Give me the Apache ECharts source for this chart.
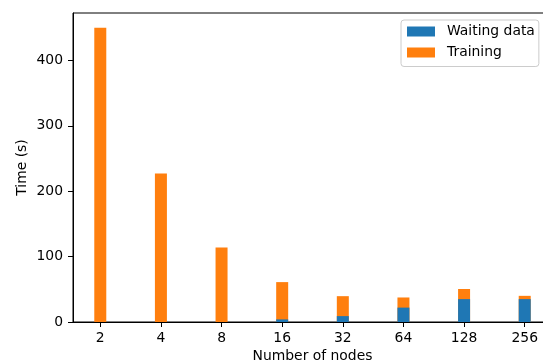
<!DOCTYPE html>
<html>
<head>
<meta charset="utf-8">
<script src="https://cdn.jsdelivr.net/npm/echarts@6/dist/echarts.min.js"></script>
<style>html,body{margin:0;padding:0;background:#fff;}#c{width:543px;height:364px;}</style>
</head>
<body>
<div id="c"></div>
<script>
const categories = ['2', '4', '8', '16', '32', '64', '128', '256'];
const waitingData = [0, 0, 0, 4, 9, 22, 35, 35];
const training = [450, 227, 114, 57, 30.5, 15.5, 15.5, 5];
const yTicks = [0, 100, 200, 300, 400];

const FONT = 'DejaVu Sans';
const FS = 13.9;
const idx = categories.map((c, i) => i);
// training is stacked on top of waiting data
const trainingTop = training.map((v, i) => [i, v + waitingData[i]]);

const chart = echarts.init(document.getElementById('c'), null, {renderer: 'canvas'});
chart.setOption({
  animation: false,
  backgroundColor: '#fff',
  textStyle: {fontFamily: FONT},
  grid: {
    left: 73, top: 13, width: 479, height: 309,
    outerBoundsMode: 'none',
    containLabel: false,
    show: true, borderColor: '#000', borderWidth: 1, backgroundColor: 'transparent'
  },
  legend: {
    orient: 'vertical',
    left: 401, top: 20,
    padding: [3.5, 4, 6, 6],
    itemGap: 5,
    itemWidth: 28, itemHeight: 10,
    icon: 'rect',
    backgroundColor: '#fff',
    borderColor: '#cccccc', borderWidth: 1, borderRadius: 3,
    textStyle: {fontFamily: FONT, fontSize: FS, color: '#000', lineHeight: 16, padding: [0, 0, 0, 7]},
    data: ['Waiting data', 'Training']
  },
  xAxis: {
    type: 'value',
    min: -0.45, max: 7.45,
    name: 'Number of nodes',
    nameLocation: 'middle',
    nameGap: 27,
    nameMoveOverlap: false,
    nameTextStyle: {fontFamily: FONT, fontSize: FS, color: '#000'},
    axisLine: {show: true, onZero: false, lineStyle: {color: '#000', width: 1}},
    axisTick: {show: true, length: 5, lineStyle: {color: '#000', width: 1}, customValues: idx},
    axisLabel: {
      fontFamily: FONT, fontSize: FS, color: '#000', margin: 9,
      customValues: idx,
      formatter: v => categories[Math.round(v)]
    },
    splitLine: {show: false}
  },
  yAxis: {
    type: 'value',
    min: 0, max: 472.5,
    name: 'Time (s)',
    nameLocation: 'middle',
    nameGap: 44,
    nameMoveOverlap: false,
    nameTextStyle: {fontFamily: FONT, fontSize: FS, color: '#000'},
    axisLine: {show: true, onZero: false, lineStyle: {color: '#000', width: 1}},
    axisTick: {show: true, length: 5, lineStyle: {color: '#000', width: 1}, customValues: yTicks},
    axisLabel: {fontFamily: FONT, fontSize: FS, color: '#000', margin: 10, customValues: yTicks},
    splitLine: {show: false}
  },
  series: [
    {
      name: 'Training', type: 'bar', barWidth: 12, barGap: '-100%',
      itemStyle: {color: '#ff7f0e'},
      data: trainingTop
    },
    {
      name: 'Waiting data', type: 'bar', barWidth: 12, barGap: '-100%',
      itemStyle: {color: '#1f77b4'},
      data: waitingData.map((v, i) => [i, v])
    }
  ]
});
</script>
</body>
</html>
